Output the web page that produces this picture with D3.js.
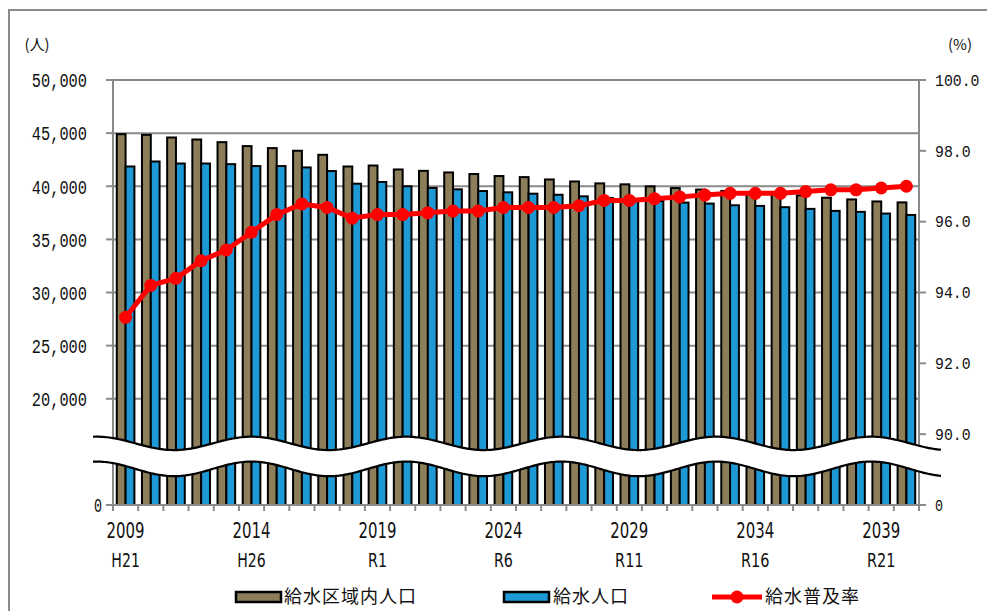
<!DOCTYPE html>
<html>
<head>
<meta charset="utf-8">
<script src="https://cdn.jsdelivr.net/npm/d3@7"></script>
<style>
  html, body { margin: 0; padding: 0; background: #fff; }
  svg { display: block; }
</style>
</head>
<body>
<svg id="chart" width="987" height="611"></svg>
<script>
// Fiscal years shown on the category axis
const years = [2009, 2010, 2011, 2012, 2013, 2014, 2015, 2016, 2017, 2018, 2019, 2020,
  2021, 2022, 2023, 2024, 2025, 2026, 2027, 2028, 2029, 2030, 2031, 2032,
  2033, 2034, 2035, 2036, 2037, 2038, 2039, 2040];

// 給水区域内人口 (people)
const areaPopulation = [44900, 44840, 44590, 44400, 44150, 43780, 43590, 43340, 42960, 41860,
  41950, 41580, 41450, 41300, 41150, 40960, 40860, 40640, 40450, 40270,
  40180, 39990, 39830, 39690, 39560, 39460, 39300, 39140, 38920, 38760,
  38570, 38480];

// 給水人口 (people)
const servedPopulation = [41860, 42330, 42140, 42140, 42080, 41900, 41900, 41770, 41430, 40240,
  40400, 40000, 39840, 39710, 39550, 39430, 39300, 39200, 39050, 38890,
  38750, 38600, 38460, 38370, 38210, 38150, 38030, 37870, 37680, 37590,
  37430, 37300];

// 給水普及率 (%)
const coverageRate = [93.3, 94.2, 94.4, 94.9, 95.2, 95.7, 96.2, 96.5, 96.4, 96.1,
  96.2, 96.2, 96.25, 96.3, 96.3, 96.4, 96.4, 96.4, 96.45, 96.6,
  96.6, 96.65, 96.7, 96.75, 96.8, 96.8, 96.8, 96.85, 96.9, 96.9,
  96.95, 97.0];

// Labelled categories: western year and Japanese era year
const labelYears = [2009, 2014, 2019, 2024, 2029, 2034, 2039];
const eraLabels = ["H21", "H26", "R1", "R6", "R11", "R16", "R21"];

// Axis ticks (the axis base is shown as "0" below the break)
const leftTicks = [20000, 25000, 30000, 35000, 40000, 45000, 50000];
const leftBase = 10000;
const rightTicks = [90, 92, 94, 96, 98, 100];
const rightBase = 88;

const seriesNames = ["給水区域内人口", "給水人口", "給水普及率"];
const colors = { area: "#8b7e58", served: "#1d9ad6", rate: "#ff0000" };

const svg = d3.select("#chart");
const plot = { left: 113, right: 919, top: 80, bottom: 505 };

const x = d3.scaleBand().domain(years).range([plot.left, plot.right])
  .paddingInner(0.3).paddingOuter(0.15);
const xStep = x.step();
const xSub = d3.scaleBand().domain(["area", "served"]).range([0, x.bandwidth()]);
const yLeft = d3.scaleLinear().domain([leftBase, 50000]).range([plot.bottom, plot.top]);
const yRight = d3.scaleLinear().domain([rightBase, 100]).range([plot.bottom, plot.top]);

const numFmt = d3.format(",");
const grey = "#8a8a8a";

// squeeze a text element to a narrow, evenly spaced width
function squeeze(sel, perChar) {
  sel.each(function () {
    const t = d3.select(this);
    t.attr("textLength", t.text().length * perChar).attr("lengthAdjust", "spacingAndGlyphs");
  });
}

// Outer frame
svg.append("rect").attr("x", 9).attr("y", 10).attr("width", 1100).attr("height", 800)
  .attr("fill", "none").attr("stroke", grey).attr("stroke-width", 2);

// Gridlines
svg.append("g").selectAll("line").data(leftTicks).join("line")
  .attr("x1", plot.left).attr("x2", plot.right)
  .attr("y1", d => yLeft(d)).attr("y2", d => yLeft(d))
  .attr("stroke", grey).attr("stroke-width", 2);

// Bars
const groups = svg.append("g").selectAll("g").data(years).join("g")
  .attr("transform", d => `translate(${x(d)},0)`);
groups.append("rect")
  .attr("x", xSub("area")).attr("width", xSub.bandwidth())
  .attr("y", (d, i) => yLeft(areaPopulation[i]))
  .attr("height", (d, i) => yLeft(leftBase) - yLeft(areaPopulation[i]))
  .attr("fill", colors.area).attr("stroke", "#000").attr("stroke-width", 2);
groups.append("rect")
  .attr("x", xSub("served")).attr("width", xSub.bandwidth())
  .attr("y", (d, i) => yLeft(servedPopulation[i]))
  .attr("height", (d, i) => yLeft(leftBase) - yLeft(servedPopulation[i]))
  .attr("fill", colors.served).attr("stroke", "#000").attr("stroke-width", 2);

// Axis lines
svg.append("line").attr("x1", plot.left).attr("x2", plot.left)
  .attr("y1", plot.top).attr("y2", plot.bottom).attr("stroke", grey).attr("stroke-width", 2);
svg.append("line").attr("x1", plot.right).attr("x2", plot.right)
  .attr("y1", plot.top).attr("y2", plot.bottom).attr("stroke", grey).attr("stroke-width", 2);
svg.append("line").attr("x1", plot.left - 1).attr("x2", plot.right + 1)
  .attr("y1", plot.bottom).attr("y2", plot.bottom).attr("stroke", grey).attr("stroke-width", 2);

// Category tick marks at band boundaries
const boundaries = years.map(d => x(d) - xStep * x.paddingInner() / 2).concat([plot.right]);
svg.append("g").selectAll("line").data(boundaries).join("line")
  .attr("x1", d => d).attr("x2", d => d)
  .attr("y1", plot.bottom).attr("y2", plot.bottom + 6)
  .attr("stroke", grey).attr("stroke-width", 2);

// Value-axis tick marks
svg.append("g").selectAll("line").data(leftTicks.concat([leftBase])).join("line")
  .attr("x1", plot.left - 7).attr("x2", plot.left)
  .attr("y1", d => yLeft(d)).attr("y2", d => yLeft(d))
  .attr("stroke", grey).attr("stroke-width", 2);
svg.append("g").selectAll("line").data(rightTicks.concat([rightBase])).join("line")
  .attr("x1", plot.right).attr("x2", plot.right + 7)
  .attr("y1", d => yRight(d)).attr("y2", d => yRight(d))
  .attr("stroke", grey).attr("stroke-width", 2);

// Axis break: white wavy band with black edges
const breakUpper = yLeft(15800), breakLower = yLeft(13400);
const wavePeriod = xStep * 6.15;
const wavePhase = x(2014) + x.bandwidth() / 2;
const waveXs = d3.range(plot.left - 20, plot.right + 23, 2);
const waveY = (xv, c, a) => c - a * Math.cos(2 * Math.PI * (xv - wavePhase) / wavePeriod);
const upperPts = waveXs.map(v => [v, waveY(v, breakUpper, 6.7)]);
const lowerPts = waveXs.map(v => [v, waveY(v, breakLower, 7.3)]);
const bandLine = d3.line();
svg.append("path")
  .attr("d", bandLine(upperPts.concat(lowerPts.slice().reverse())) + "Z")
  .attr("fill", "#fff");
svg.append("path").attr("d", bandLine(upperPts))
  .attr("fill", "none").attr("stroke", "#000").attr("stroke-width", 2.2);
svg.append("path").attr("d", bandLine(lowerPts))
  .attr("fill", "none").attr("stroke", "#000").attr("stroke-width", 2.2);

// Coverage rate line
const cx = d => x(d) + x.bandwidth() / 2;
svg.append("path")
  .attr("d", d3.line().x((d, i) => cx(d)).y((d, i) => yRight(coverageRate[i]))(years))
  .attr("fill", "none").attr("stroke", colors.rate).attr("stroke-width", 5)
  .attr("stroke-linejoin", "round");
svg.append("g").selectAll("circle").data(years).join("circle")
  .attr("cx", d => cx(d)).attr("cy", (d, i) => yRight(coverageRate[i]))
  .attr("r", 6.5).attr("fill", colors.rate);

// Tick labels
const numFont = "'Liberation Mono', 'DejaVu Sans Mono', monospace";
const leftLabels = svg.append("g").attr("font-family", numFont).attr("font-size", 21)
  .attr("fill", "#111");
leftLabels.selectAll("text").data(leftTicks).join("text")
  .attr("x", 87).attr("y", d => yLeft(d)).attr("dy", "0.35em")
  .attr("text-anchor", "end").text(d => numFmt(d)).call(squeeze, 9.2);
leftLabels.append("text").attr("x", 102).attr("y", yLeft(leftBase)).attr("dy", "0.35em")
  .attr("text-anchor", "end").text("0").call(squeeze, 8);

const rightLabels = svg.append("g").attr("font-family", numFont).attr("font-size", 16.5)
  .attr("fill", "#111");
rightLabels.selectAll("text").data(rightTicks).join("text")
  .attr("x", 935).attr("y", d => yRight(d)).attr("dy", "0.35em")
  .text(d => d3.format(".1f")(d)).call(squeeze, 8.9);
rightLabels.append("text").attr("x", 935).attr("y", yRight(rightBase)).attr("dy", "0.35em")
  .text("0").call(squeeze, 8);

// Category labels
const catFont = "'DejaVu Sans', 'Liberation Sans', sans-serif";
const catLabels = svg.append("g").attr("font-family", catFont).attr("fill", "#111")
  .attr("text-anchor", "middle");
catLabels.selectAll("text.yr").data(labelYears).join("text").attr("class", "yr")
  .attr("x", d => cx(d)).attr("y", 531).attr("dy", "0.35em").attr("font-size", 21)
  .text(d => d).call(squeeze, 9.5);
catLabels.selectAll("text.era").data(labelYears).join("text").attr("class", "era")
  .attr("x", d => cx(d)).attr("y", 560).attr("dy", "0.35em").attr("font-size", 19)
  .text((d, i) => eraLabels[i]).call(squeeze, 9.5);

// Unit labels
const cjk = "'Noto Sans CJK JP', sans-serif";
svg.append("text").attr("x", 37).attr("y", 45).attr("dy", "0.35em").attr("text-anchor", "middle")
  .attr("font-family", cjk).attr("font-size", 15).attr("fill", "#111").text("(人)");
svg.append("text").attr("x", 960).attr("y", 45).attr("dy", "0.35em").attr("text-anchor", "middle")
  .attr("font-family", cjk).attr("font-size", 15).attr("fill", "#111").text("(%)");

// Legend
const legendY = 597;
const legend = svg.append("g").attr("font-family", cjk).attr("font-size", 18).attr("fill", "#111");
legend.append("rect").attr("x", 236).attr("y", legendY - 5).attr("width", 45).attr("height", 10)
  .attr("fill", colors.area).attr("stroke", "#000").attr("stroke-width", 2.5);
legend.append("text").attr("x", 284).attr("y", legendY).attr("dy", "0.35em")
  .attr("letter-spacing", 1).text(seriesNames[0]);
legend.append("rect").attr("x", 504).attr("y", legendY - 5).attr("width", 45).attr("height", 10)
  .attr("fill", colors.served).attr("stroke", "#000").attr("stroke-width", 2.5);
legend.append("text").attr("x", 553).attr("y", legendY).attr("dy", "0.35em")
  .attr("letter-spacing", 1).text(seriesNames[1]);
legend.append("line").attr("x1", 712).attr("x2", 762).attr("y1", legendY).attr("y2", legendY)
  .attr("stroke", colors.rate).attr("stroke-width", 5);
legend.append("circle").attr("cx", 737).attr("cy", legendY).attr("r", 6.5).attr("fill", colors.rate);
legend.append("text").attr("x", 765).attr("y", legendY).attr("dy", "0.35em")
  .attr("letter-spacing", 1).text(seriesNames[2]);
</script>
</body>
</html>
